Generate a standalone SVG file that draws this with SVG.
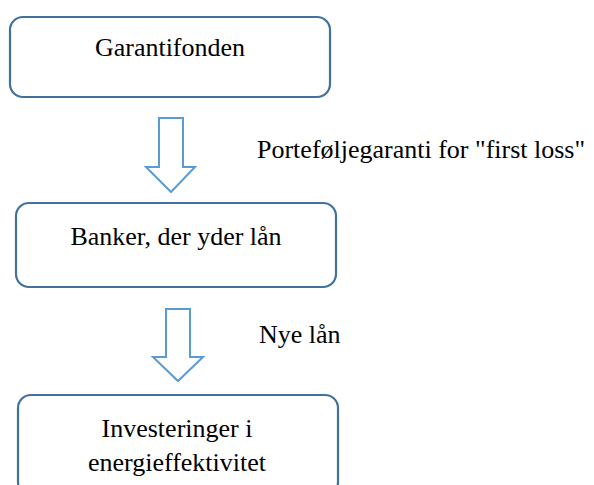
<svg xmlns="http://www.w3.org/2000/svg" width="594" height="485" viewBox="0 0 594 485">
<style>
.box{fill:#fff;stroke:#41719c;stroke-width:2.2}
.arr{fill:#fff;stroke:#5b9bd5;stroke-width:2;stroke-linejoin:miter}
text{font-family:"Liberation Serif","Times New Roman",serif;font-size:26px;fill:#000}
.c{text-anchor:middle}
</style>
<rect width="594" height="485" fill="#fff"/>
<g id="connectors">
<polygon class="arr" points="159,118 183,118 183,167 195,167 171,192 146,167 159,167"/>
<polygon class="arr" points="166,309 190,309 190,357 203,357 178,381 153,357 166,357"/>
<text x="257" y="158">Porteføljegaranti for "first loss"</text>
<text x="259" y="343">Nye lån</text>
</g>
<g id="garantifonden">
<rect class="box" x="10" y="17" width="320" height="80" rx="13"/>
<text class="c" x="170" y="56">Garantifonden</text>
</g>
<g id="banker">
<rect class="box" x="16" y="203" width="320" height="84" rx="13"/>
<text class="c" x="176" y="245">Banker, der yder lån</text>
</g>
<g id="investeringer">
<rect class="box" x="18" y="395" width="320" height="100" rx="13"/>
<text class="c" x="177" y="437">Investeringer i</text>
<text class="c" x="177" y="471">energieffektivitet</text>
</g>
</svg>
